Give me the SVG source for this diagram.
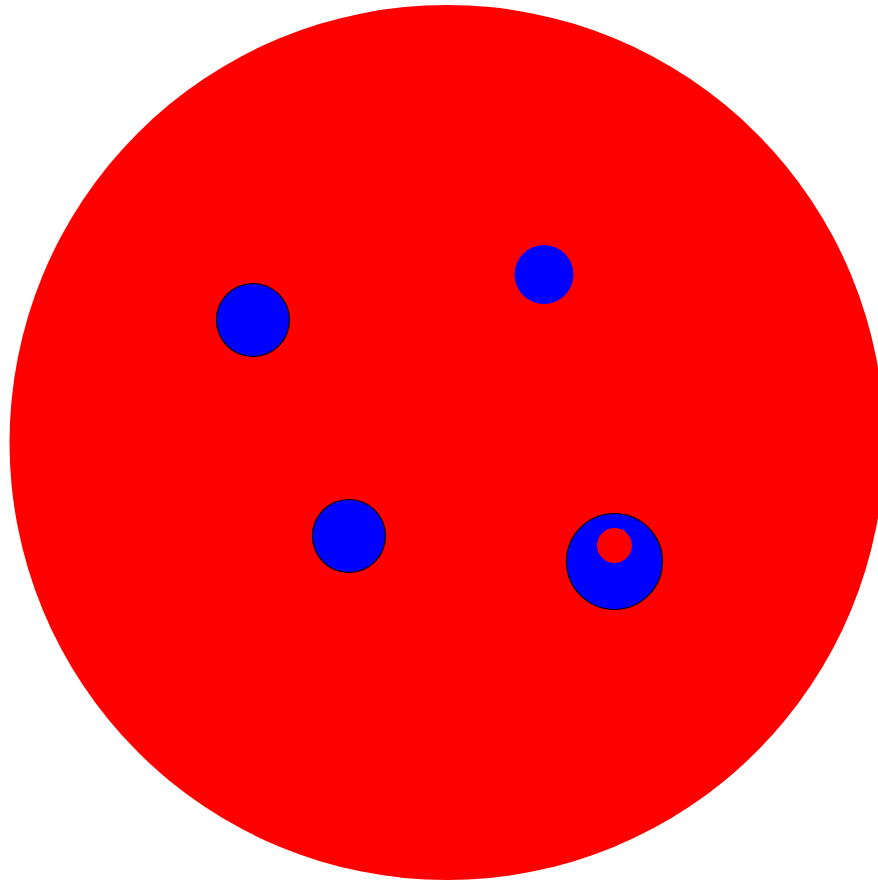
<svg xmlns="http://www.w3.org/2000/svg" width="878" height="884" viewBox="0 0 878 884">
<style>
.red{fill:#ff0000}
.blue{fill:#0000ff}
.st{stroke:#000000;stroke-width:1.2}
</style>
<rect x="0" y="0" width="878" height="884" fill="#ffffff"/>
<g id="outer"><circle class="red" cx="447" cy="442.5" r="437.5"/></g>
<g id="c1"><circle class="blue st" cx="253" cy="320" r="36.5"/></g>
<g id="c2"><circle class="blue" cx="544" cy="274.5" r="29.5"/></g>
<g id="c3"><circle class="blue st" cx="349" cy="536" r="36.5"/></g>
<g id="c4"><circle class="blue st" cx="614.5" cy="561.5" r="48"/><circle class="red" cx="614.5" cy="545.5" r="17.5"/></g>
<g id="connectors"></g>
</svg>
